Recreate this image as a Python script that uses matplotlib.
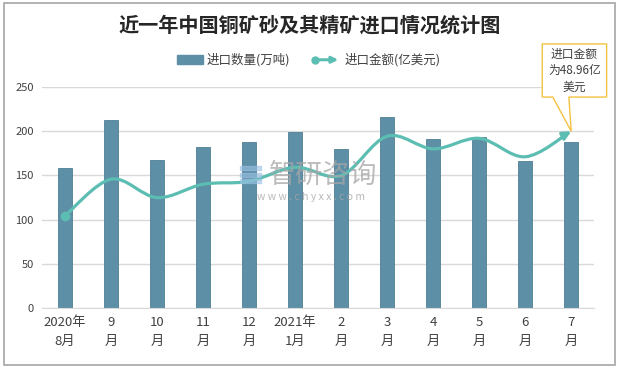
import numpy as np
import matplotlib.pyplot as plt
from matplotlib.path import Path
from matplotlib.patches import FancyArrowPatch, Rectangle, Polygon
from matplotlib.lines import Line2D

plt.rcParams['font.family'] = ['Noto Sans CJK SC', 'DejaVu Sans']

# data
months = ["2020年\n8月", "9\n月", "10\n月", "11\n月", "12\n月", "2021年\n1月",
          "2\n月", "3\n月", "4\n月", "5\n月", "6\n月", "7\n月"]
qty = [158, 213, 168, 182, 188, 199, 180, 216, 191, 193, 166, 188]          # 万吨
amount = [25.6, 35.7, 30.6, 34.3, 35.1, 39.0, 36.7, 47.6, 44.1, 47.0, 41.9, 48.96]  # 亿美元

bar_c = "#5d8fa6"
line_c = "#5cbdb2"
note_c = "#f4c242"

fig = plt.figure(figsize=(6.19, 3.69), dpi=100)
fig.patches.append(Rectangle((0.006, 0.01), 0.988, 0.982, transform=fig.transFigure,
                             fill=False, edgecolor="#a6a6a6", lw=1.2))

ax = fig.add_axes([0.068, 0.165, 0.892, 0.599])
x = np.arange(len(months))
ax.bar(x, qty, width=0.3, color=bar_c, edgecolor="#4f7f95", lw=0.6, zorder=2)
ax.set_xlim(-0.5, len(months) - 0.5)
ax.set_ylim(0, 250)
ax.set_yticks([0, 50, 100, 150, 200, 250])
ax.yaxis.grid(True, color="#d9d9d9", lw=1)
ax.set_axisbelow(True)
for s in ["top", "right", "left"]:
    ax.spines[s].set_visible(False)
ax.spines["bottom"].set_color("#d9d9d9")
ax.tick_params(axis="y", length=0, labelsize=8, colors="#404040", pad=6)
ax.tick_params(axis="x", length=0, labelsize=9.5, colors="#404040", pad=6)
ax.set_xticks(x)
ax.set_xticklabels(months, linespacing=1.5)

# secondary (hidden) axis for the amount line
ax2 = ax.twinx()
ax2.set_ylim(0, 48.96 * 250 / 200)
ax2.axis("off")

# smoothed line like Excel (bezier through points)
pts = np.column_stack([x, amount]).astype(float)
verts = [tuple(pts[0])]
codes = [Path.MOVETO]
for i in range(len(pts) - 1):
    p0 = pts[max(i - 1, 0)]
    p1 = pts[i]
    p2 = pts[i + 1]
    p3 = pts[min(i + 2, len(pts) - 1)]
    c1 = p1 + (p2 - p0) / 6
    c2 = p2 - (p3 - p1) / 6
    verts += [tuple(c1), tuple(c2), tuple(p2)]
    codes += [Path.CURVE4] * 3
arrow = FancyArrowPatch(path=Path(verts, codes), arrowstyle="-|>", mutation_scale=12,
                        color=line_c, lw=2.3, transform=ax2.transData, zorder=3)
ax2.add_patch(arrow)
ax2.plot(x[0], amount[0], "o", color=line_c, ms=6, zorder=4)

# callout box with a wedge pointing at the last point
tip = fig.transFigure.inverted().transform(ax2.transData.transform((x[-1], amount[-1])))
l, r, t, b = 0.876, 0.980, 0.881, 0.737
callout = Polygon([(l, t), (r, t), (r, b), (0.919, b), tuple(tip), (0.893, b), (l, b)],
                  closed=True, transform=fig.transFigure, fc="white", ec=note_c, lw=1,
                  zorder=5)
fig.patches.append(callout)
fig.text((l + r) / 2, (t + b) / 2, "进口金额\n为48.96亿\n美元", ha="center", va="center",
         fontsize=8.5, color="#404040", linespacing=1.35, zorder=6)

# watermark
for k in range(3):
    fig.patches.append(Rectangle((0.388, 0.453 + 0.018 * k + 0.05), 0.034, 0.011,
                                 transform=fig.transFigure, color="#9cc2e5", alpha=0.6,
                                 zorder=4))
fig.text(0.522, 0.526, "智研咨询", fontsize=19.5, color="#a6a6a6", ha="center", va="center",
         alpha=0.75, zorder=4)
fig.text(0.503, 0.466, "w w w . c h y x x . c o m", fontsize=7.5, color="#a6a6a6",
         ha="center", va="center", alpha=0.8, zorder=4)

fig.text(0.5, 0.932, "近一年中国铜矿砂及其精矿进口情况统计图", ha="center", va="center",
         fontsize=14.5, fontweight="bold", color="#262626")

# legend drawn manually
fig.patches.append(Rectangle((0.286, 0.826), 0.042, 0.025, transform=fig.transFigure,
                             color=bar_c))
fig.text(0.334, 0.838, "进口数量(万吨)", fontsize=9, color="#404040", va="center")
fig.patches.append(FancyArrowPatch((0.504, 0.838), (0.551, 0.838), transform=fig.transFigure,
                                   arrowstyle="-|>", mutation_scale=9, color=line_c, lw=2.2))
fig.lines.append(Line2D([0.509], [0.838], transform=fig.transFigure, marker="o", ms=5,
                        color=line_c))
fig.text(0.557, 0.838, "进口金额(亿美元)", fontsize=9, color="#404040", va="center")

fig.savefig("out.png", dpi=100)
